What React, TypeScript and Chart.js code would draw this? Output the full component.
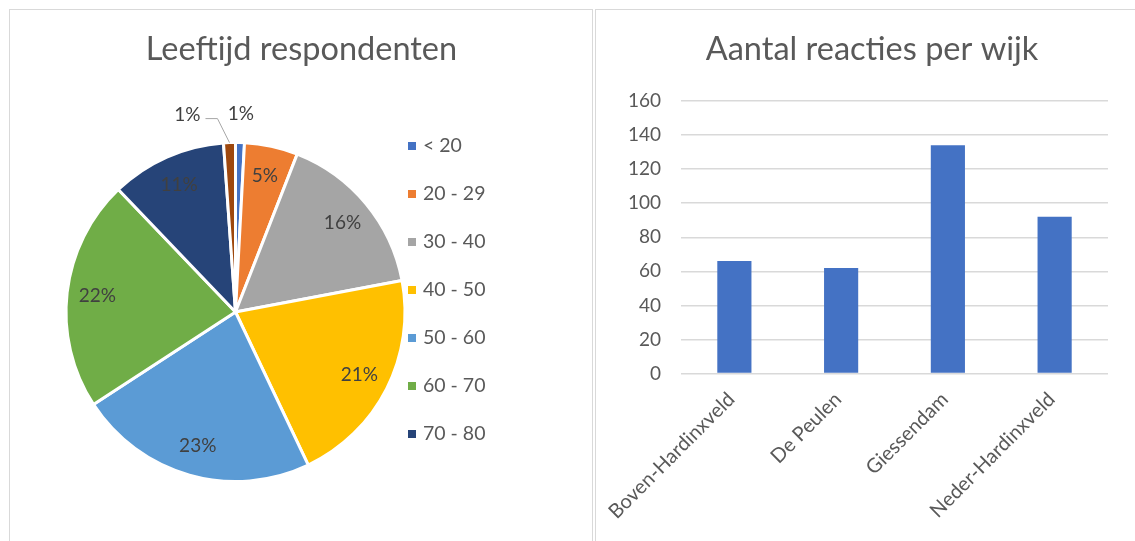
import React, { useEffect, useRef } from "react";
import { Chart, registerables } from "chart.js";

Chart.register(...registerables);

const FONT = "Lato, 'Open Sans', sans-serif";
const TEXT = "#595959";

// ---- Pie data ----
const pieTitle = "Leeftijd respondenten";
const ageGroups = ["< 20", "20 - 29", "30 - 40", "40 - 50", "50 - 60", "60 - 70", "70 - 80", "80+"];
const ageCounts = [3, 18, 57, 74, 81, 78, 39, 4];
const ageColors = ["#4472C4", "#ED7D31", "#A5A5A5", "#FFC000", "#5B9BD5", "#70AD47", "#264478", "#9E480E"];
const legendShown = 7; // the original legend is cut off after "70 - 80"

// ---- Bar data ----
const barTitle = "Aantal reacties per wijk";
const wijken = ["Boven-Hardinxveld", "De Peulen", "Giessendam", "Neder-Hardinxveld"];
const reacties = [66, 62, 134, 92];
const yMin = 0;
const yMax = 160;
const yStep = 20;

// Title drawn at a given centre (Excel centres the title on the whole panel)
const panelTitle = {
  id: "panelTitle",
  afterDraw(chart: any, _args: any, opts: any) {
    if (!opts || !opts.text) return;
    const ctx = chart.ctx as CanvasRenderingContext2D;
    ctx.save();
    ctx.fillStyle = TEXT;
    ctx.font = `${opts.size}px ${FONT}`;
    ctx.textAlign = "center";
    ctx.textBaseline = "alphabetic";
    ctx.fillText(opts.text, opts.x, opts.y);
    ctx.restore();
  },
};

const pieDecor = {
  id: "pieDecor",
  afterDraw(chart: any) {
    const ctx = chart.ctx as CanvasRenderingContext2D;
    const meta = chart.getDatasetMeta(0);
    const data = chart.data.datasets[0].data as number[];
    const colors = chart.data.datasets[0].backgroundColor as string[];
    const labels = chart.data.labels as string[];
    const total = data.reduce((a, b) => a + b, 0);
    ctx.save();

    // data labels
    ctx.font = `19px ${FONT}`;
    ctx.fillStyle = "#404040";
    ctx.textBaseline = "middle";
    meta.data.forEach((arc: any, i: number) => {
      const p = arc.getProps(["x", "y", "startAngle", "endAngle", "outerRadius"], true);
      const mid = (p.startAngle + p.endAngle) / 2;
      const share = data[i] / total;
      const text = Math.round(share * 100) + "%";
      if (share >= 0.025) {
        const r = p.outerRadius * 0.82;
        ctx.textAlign = "center";
        ctx.fillText(text, p.x + Math.cos(mid) * r, p.y + Math.sin(mid) * r);
      } else if (Math.cos(mid) >= 0) {
        const r = p.outerRadius + 29;
        ctx.textAlign = "center";
        ctx.fillText(text, p.x + Math.cos(mid) * r, p.y + Math.sin(mid) * r);
      } else {
        const ex = p.x + Math.cos(mid) * p.outerRadius;
        const ey = p.y + Math.sin(mid) * p.outerRadius;
        const elx = ex - 12;
        const ely = ey - 24;
        const sx = elx - 12;
        ctx.strokeStyle = "#A6A6A6";
        ctx.lineWidth = 1;
        ctx.beginPath();
        ctx.moveTo(sx, ely);
        ctx.lineTo(elx, ely);
        ctx.lineTo(ex, ey);
        ctx.stroke();
        ctx.textAlign = "right";
        ctx.fillText(text, sx - 5, ely - 4);
      }
    });

    // legend
    ctx.font = `19.5px ${FONT}`;
    ctx.textAlign = "left";
    ctx.textBaseline = "middle";
    for (let i = 0; i < legendShown; i++) {
      const cy = 136 + i * 48;
      ctx.fillStyle = colors[i];
      ctx.fillRect(398, cy - 4, 8, 8);
      ctx.fillStyle = TEXT;
      ctx.fillText(labels[i], 413, cy);
    }
    ctx.restore();
  },
};

export default function App() {
  const pieRef = useRef<HTMLCanvasElement>(null);
  const barRef = useRef<HTMLCanvasElement>(null);

  useEffect(() => {
    const pie = new Chart(pieRef.current!, {
      type: "pie",
      data: {
        labels: ageGroups,
        datasets: [
          {
            data: ageCounts,
            backgroundColor: ageColors,
            borderColor: "#FFFFFF",
            borderWidth: 3,
            hoverOffset: 0,
          },
        ],
      },
      options: {
        responsive: false,
        animation: false,
        layout: { padding: { top: 131, left: 54.5, right: 185.5, bottom: 58 } },
        plugins: {
          legend: { display: false },
          title: { display: false },
          tooltip: { enabled: false },
          panelTitle: { text: pieTitle, x: 291.5, y: 50, size: 32.5 },
        },
      },
      plugins: [pieDecor, panelTitle],
    } as any);

    const bar = new Chart(barRef.current!, {
      type: "bar",
      data: {
        labels: wijken,
        datasets: [
          {
            data: reacties,
            backgroundColor: "#4472C4",
            barPercentage: 0.32,
            categoryPercentage: 1,
          },
        ],
      },
      options: {
        responsive: false,
        animation: false,
        layout: { padding: { left: 10, right: 27, top: 91, bottom: 0 } },
        plugins: {
          legend: { display: false },
          tooltip: { enabled: false },
          title: { display: false },
          panelTitle: { text: barTitle, x: 276, y: 50, size: 32.5 },
        },
        scales: {
          x: {
            grid: { display: false, drawTicks: false },
            border: { display: false },
            ticks: {
              color: TEXT,
              font: { family: FONT, size: 20 },
              minRotation: 45,
              maxRotation: 45,
              autoSkip: false,
              padding: 14,
              labelOffset: -3,
            },
            afterFit: (s: any) => {
              s.height = 167.5;
              s.paddingLeft = 0;
              s.paddingRight = 0;
            },
          },
          y: {
            min: yMin,
            max: yMax,
            ticks: { stepSize: yStep, color: TEXT, font: { family: FONT, size: 19 }, padding: 20 },
            grid: { color: "#D9D9D9", lineWidth: 1.5, drawTicks: false },
            border: { display: false },
            afterFit: (s: any) => {
              s.width = 75;
            },
          },
        },
      },
      plugins: [panelTitle],
    } as any);

    return () => {
      pie.destroy();
      bar.destroy();
    };
  }, []);

  return (
    <div
      style={{
        position: "fixed",
        left: 0,
        top: 0,
        width: 1135,
        height: 541,
        overflow: "hidden",
        background: "#FFFFFF",
      }}
    >
      <div
        style={{
          position: "absolute",
          left: 9,
          top: 9,
          width: 584,
          height: 600,
          border: "1px solid #D9D9D9",
          boxSizing: "border-box",
        }}
      />
      <div
        style={{
          position: "absolute",
          left: 595,
          top: 9,
          width: 600,
          height: 600,
          border: "1px solid #D9D9D9",
          boxSizing: "border-box",
        }}
      />
      <canvas
        ref={pieRef}
        width={582}
        height={531}
        style={{ position: "absolute", left: 10, top: 10, width: 582, height: 531 }}
      />
      <canvas
        ref={barRef}
        width={539}
        height={531}
        style={{ position: "absolute", left: 596, top: 10, width: 539, height: 531 }}
      />
    </div>
  );
}
